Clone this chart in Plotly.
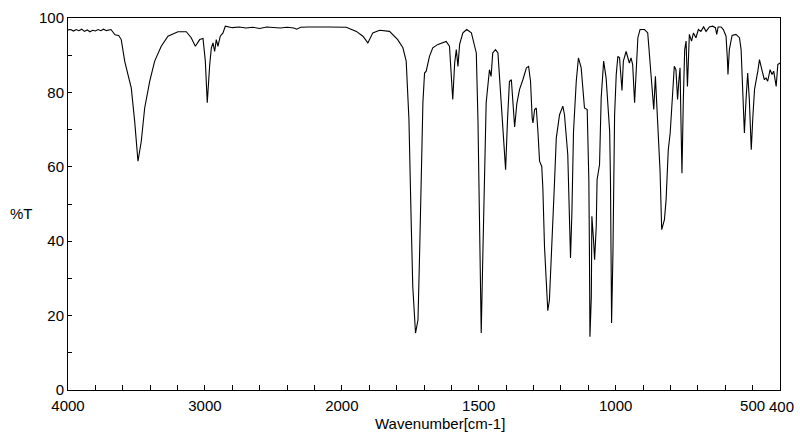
import plotly.graph_objects as go

# Wavenumber (cm-1) and transmittance (%T)
wavenumber = [
    4000, 3980, 3960, 3940, 3920, 3900, 3880, 3860, 3840, 3820, 3800, 3780, 3760, 3740, 3720, 3700, 3686,
    3657, 3630, 3611, 3586, 3562, 3538, 3513, 3489, 3465, 3440, 3403, 3367, 3319, 3270, 3197, 3136,
    3100, 3070, 3038, 3014, 2997, 2983, 2965, 2953, 2941, 2929, 2917, 2905, 2888, 2868, 2851,
    2800, 2750, 2700, 2650, 2600, 2550, 2500, 2450, 2400, 2350, 2330, 2300, 2250, 2200, 2150, 2100, 2050, 2000,
    1984, 1947, 1923, 1905, 1887, 1862, 1826, 1796, 1777, 1765, 1755, 1747, 1741, 1731, 1722, 1716, 1710,
    1704, 1698, 1692, 1680, 1668, 1649, 1637, 1619, 1607, 1601, 1595, 1588, 1582, 1576, 1570, 1558, 1544,
    1527, 1509, 1503, 1497, 1491, 1485, 1479, 1473, 1461, 1455, 1449, 1439, 1430, 1422, 1412, 1402, 1395,
    1388, 1381, 1369, 1361, 1351, 1339, 1326, 1318, 1311, 1305, 1302, 1296, 1290, 1284, 1278, 1270, 1266,
    1260, 1254, 1250, 1248, 1242, 1235, 1230, 1223, 1217, 1205, 1193, 1187, 1175, 1168, 1165, 1160, 1154,
    1144, 1136, 1126, 1114, 1104, 1098, 1096, 1094, 1089, 1087, 1081, 1077, 1071, 1068, 1059, 1053, 1044,
    1035, 1022, 1019, 1015, 1010, 1004, 998, 992, 986, 977, 972, 962, 956, 950, 944, 938, 931, 925, 919,
    911, 895, 883, 874, 867, 861, 855, 849, 843, 838, 832, 822, 816, 808, 801, 792, 786, 780, 774, 770,
    765, 762, 758, 753, 748, 743, 738, 731, 723, 716, 707, 698, 689, 679, 670, 658, 646, 636, 631, 626,
    615, 607, 597, 592, 590, 585, 575, 561, 548, 542, 536, 530, 524, 518, 512, 505, 499, 493, 481, 475,
    465, 457, 451, 445, 436, 429, 423, 414, 408, 400,
]
transmittance = [
    96.8, 96.9, 96.5, 96.9, 96.6, 97.0, 96.4, 96.8, 96.3, 96.7, 96.5, 96.9, 96.6, 97.0, 96.6, 96.8, 96.9,
    95.5, 95.3, 94.2, 88.4, 84.8, 81.2, 72.2, 61.5, 66.8, 75.8, 83.0, 88.4, 92.4, 95.1, 96.3, 96.3,
    94.7, 92.4, 94.2, 94.5, 88.4, 77.2, 87.5, 92.0, 93.3, 91.0, 94.2, 92.4, 95.1, 96.0, 97.8,
    97.4, 97.6, 97.3, 97.5, 97.2, 97.6, 97.4, 97.3, 97.5, 97.3, 97.0, 97.5, 97.6, 97.7, 97.6, 97.6, 97.6, 97.5,
    97.5, 96.4, 95.1, 93.3, 96.0, 96.7, 96.4, 94.2, 92.0, 88.4, 72.7, 45.8, 27.8, 15.3, 18.8, 36.8, 59.2,
    77.2, 85.2, 85.7, 89.7, 92.0, 92.9, 93.3, 93.7, 92.4, 85.2, 78.1, 87.9, 91.5, 87.0, 92.9, 96.0, 96.9,
    96.0, 90.6, 72.7, 36.8, 15.3, 36.8, 59.2, 77.2, 86.1, 84.3, 90.6, 91.5, 90.6, 81.6, 72.7, 59.2, 72.7,
    82.9, 83.4, 70.7, 77.0, 80.8, 83.4, 86.6, 87.0, 83.0, 73.1, 71.8, 75.4, 75.8, 69.5, 61.5, 60.1, 54.3,
    38.6, 29.6, 24.2, 21.3, 24.2, 35.0, 43.1, 56.5, 67.7, 74.0, 76.3, 74.0, 63.3, 47.6, 35.5, 47.6, 69.5,
    83.0, 89.3, 86.6, 75.8, 75.4, 56.1, 38.6, 14.3, 25.1, 46.7, 40.4, 35.0, 44.0, 56.5, 60.6, 78.5, 88.4,
    83.9, 69.5, 56.1, 18.0, 36.8, 74.0, 84.8, 89.7, 89.3, 80.5, 88.4, 91.0, 89.7, 87.9, 89.3, 87.5, 77.2, 87.5, 94.7,
    96.9, 96.9, 96.0, 87.5, 80.3, 75.4, 84.3, 74.0, 65.1, 58.8, 43.1, 45.8, 51.1, 64.6, 69.1, 79.9, 87.0, 86.1, 78.1, 82.6,
    86.6, 73.6, 58.3, 78.1, 91.5, 93.8, 81.6, 95.6, 93.8, 96.0, 94.7, 96.9, 96.4, 97.6, 96.4, 97.6, 97.8, 97.4, 95.6, 97.6,
    97.6, 96.9, 95.1, 88.8, 84.8, 91.5, 95.3, 95.6, 94.7, 91.5, 78.1, 69.1, 78.1, 85.2, 78.1, 64.6, 73.6, 80.8, 85.7, 88.8,
    85.7, 83.4, 83.9, 83.0, 86.1, 84.8, 85.7, 81.6, 87.5, 87.9,
]

x_tick_labels = [4000, 3000, 2000, 1500, 1000, 500]
x_end_label = 400
x_minor_high = list(range(4000, 2000, -200))   # 200 cm-1 steps above 2000
x_minor_low = list(range(2000, 399, -100))     # 100 cm-1 steps below 2000
y_tick_labels = [0, 20, 40, 60, 80, 100]
y_minor = list(range(0, 101, 10))


def to_axis(wn):
    """Split wavenumber scale: 4000-2000 compressed by a factor of 2."""
    if wn >= 2000:
        return (4000 - wn) / 2.0
    return 1000 + (2000 - wn)


xs = [to_axis(w) for w in wavenumber]

tick_wn = sorted(set(x_minor_high + x_minor_low), reverse=True)
tickvals = [to_axis(w) for w in tick_wn]
ticktext = [str(w) if w in x_tick_labels else "" for w in tick_wn]

FONT = "Liberation Sans, Arial, sans-serif"
FS = 15

L, R, T, B = 68, 20, 18, 51
W, H = 800, 441
PW, PH = W - L - R, H - T - B

fig = go.Figure()
fig.add_trace(go.Scatter(x=xs, y=transmittance, mode="lines",
                         line=dict(color="black", width=1.1), hoverinfo="skip"))

fig.update_layout(
    width=W, height=H,
    margin=dict(l=L, r=R, t=T, b=B, autoexpand=False),
    paper_bgcolor="white", plot_bgcolor="white",
    showlegend=False,
    font=dict(family=FONT, size=FS, color="black"),
)
fig.update_xaxes(
    range=[0, 2600], tickmode="array", tickvals=tickvals, ticktext=ticktext,
    ticks="inside", ticklen=5, tickcolor="black", tickwidth=1, tickangle=0,
    showline=True, linecolor="black", linewidth=1, mirror=True,
    showgrid=False, zeroline=False, automargin=False, ticklabelstandoff=2,
    tickfont=dict(family=FONT, size=FS),
)
fig.update_yaxes(
    range=[0, 100], tickmode="array", tickvals=y_minor,
    ticktext=[str(v) if v in y_tick_labels else "" for v in y_minor],
    ticks="inside", ticklen=4, tickcolor="black", tickwidth=1,
    showline=True, linecolor="black", linewidth=1, mirror=True,
    showgrid=False, zeroline=False, automargin=False,
    tickfont=dict(family=FONT, size=FS),
)


def px_x(p):
    return (p - L) / PW


def px_y(p):
    return (H - B - p) / PH


fig.add_annotation(text="%T", x=px_x(8), y=px_y(213), xref="paper", yref="paper",
                   showarrow=False, xanchor="left", yanchor="middle",
                   font=dict(family=FONT, size=FS))
fig.add_annotation(text="Wavenumber[cm-1]", x=px_x(440), y=px_y(424), xref="paper", yref="paper",
                   showarrow=False, xanchor="center", yanchor="middle",
                   font=dict(family=FONT, size=FS))
fig.add_annotation(text=str(x_end_label), x=px_x(767), y=px_y(406), xref="paper", yref="paper",
                   showarrow=False, xanchor="left", yanchor="middle",
                   font=dict(family=FONT, size=FS))

fig.write_html("out.html", config={"displayModeBar": False},
               post_script="document.body.style.margin='0';")
